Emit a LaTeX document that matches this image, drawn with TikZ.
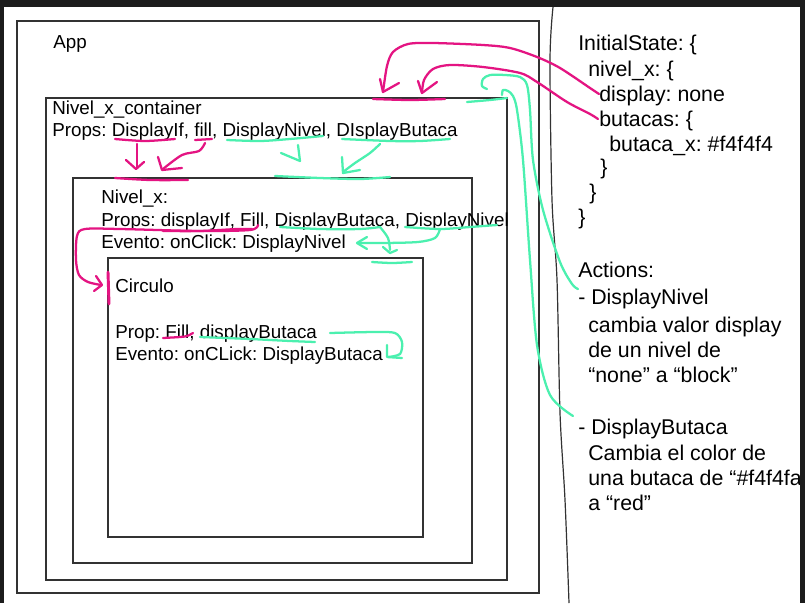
\documentclass[tikz,border=0pt]{standalone}
\usepackage{fontspec}
\setmainfont{Liberation Sans}
\definecolor{mag}{RGB}{228,20,130}
\definecolor{mint}{RGB}{75,240,175}
\definecolor{frame}{RGB}{28,28,28}
\definecolor{boxline}{RGB}{50,50,50}
\begin{document}
\frenchspacing
\begin{tikzpicture}[x=0.75pt,y=-0.75pt,
  box/.style={draw=boxline, line width=0.9pt},
  lt/.style={anchor=base west, inner sep=0pt, font=\fontsize{14.1}{16}\selectfont},
  rt/.style={anchor=base west, inner sep=0pt, font=\fontsize{16}{18}\selectfont},
  mg/.style={draw=mag, line width=1.7pt, line cap=round, line join=round},
  gn/.style={draw=mint, line width=1.7pt, line cap=round, line join=round},
  divider/.style={draw=boxline, line width=0.9pt}]
\useasboundingbox (0,0) rectangle (805,603);
\fill[frame] (0,0) rectangle (805,603);
\fill[white] (4,7) rectangle (800,603);

% boxes
\draw[box] (17,21) rectangle (539,593);
\draw[box] (46,98) rectangle (507,580);
\draw[box] (73,178) rectangle (472,563);
\draw[box] (108,258) rectangle (423,537);
\coordinate (appbox) at (17,21);
\coordinate (contbox) at (46,98);
\coordinate (nivbox) at (73,178);
\coordinate (circbox) at (108,258);

% divider
\draw[divider] plot[smooth] coordinates {(553,7) (550,60) (552,200) (557,280) (560,413) (565,500) (569,603)};

% left texts
\node[lt] (app) at (53,48) {App};
\node[lt] (cont) at (52,114) {Nivel\_x\_container};
\node[lt] (contp) at (52,136) {Props: DisplayIf, fill, DisplayNivel, DIsplayButaca};
\node[lt] (niv) at (101,203) {Nivel\_x:};
\node[lt] (nivp) at (101,226) {Props: displayIf, Fill, DisplayButaca, DisplayNivel};
\node[lt] (nive) at (101,248) {Evento: onClick: DisplayNivel};
\node[lt] (circ) at (115,292) {Circulo};
\node[lt] (circp) at (115,338) {Prop: Fill, displayButaca};
\node[lt] (circe) at (115,360) {Evento: onCLick: DisplayButaca};

% right texts
\node[rt] (s1) at (578,50) {InitialState: \{};
\node[rt] (s2) at (588,76) {nivel\_x: \{};
\node[rt] (s3) at (599,101) {display: none};
\node[rt] (s4) at (599,126) {butacas: \{};
\node[rt] (s5) at (609,151) {butaca\_x: \#f4f4f4};
\node[rt] (s6) at (600,174) {\}};
\node[rt] (s7) at (589,199) {\}};
\node[rt] (s8) at (578,224) {\}};
\node[rt] (a0) at (578,277) {Actions:};
\node[rt] (a1) at (578,304) {- DisplayNivel};
\node[rt] (a2) at (588,332) {cambia valor display};
\node[rt] (a3) at (588,357) {de un nivel de};
\node[rt] (a4) at (588,382) {“none” a “block”};
\node[rt] (b1) at (578,434) {- DisplayButaca};
\node[rt] (b2) at (588,460) {Cambia el color de};
\node[rt] (b3) at (588,485) {una butaca de “\#f4f4fa};
\node[rt] (b4) at (588,510) {a “red”};

% ---------- magenta marks ----------
% container props
\draw[mg] plot[smooth] coordinates {(115,139) (145,141) (175,139)};
\draw[mg] (195,140) -- (212,139);
\draw[mg] (137,144) -- (137,168);
\draw[mg] (126,160) -- (136,169) -- (144,162);
\draw[mg] plot[smooth] coordinates {(205,143) (199,151) (182,155) (163,169)};
\draw[mg] (158,157) -- (162,170) -- (182,168);
\draw[mg] plot[smooth] coordinates {(115,178) (150,180) (188,180)};
% top edge and big curves from state
\draw[mg] plot[smooth] coordinates {(373,99) (410,100) (445,99)};
\draw[mg] plot[smooth] coordinates {(599,94) (590,88) (560,68) (537,57) (510,48) (483,45) (433,43) (408,44) (393,52) (387,66) (383,92)};
\draw[mg] (380,79) -- (383,92) -- (399,83);
\draw[mg] plot[smooth] coordinates {(598,119) (590,114) (567,102) (537,82) (520,73) (483,67) (450,65) (433,69) (424,80) (422,93)};
\draw[mg] (418,81) -- (422,93) -- (437,82);
% nivel_x props
\draw[mg] plot[smooth] coordinates {(163,231) (200,231) (237,229) (252,229)};
\draw[mg] plot[smooth] coordinates {(258,225) (250,230) (200,231) (120,229) (85,229) (77,236) (76,260) (79,275) (88,282) (101,285)};
\draw[mg] (96,276) -- (102,285) -- (94,291);
\draw[mg, line width=2.2pt] (108,272) -- (109,304);
% circulo
\draw[mg] plot[smooth] coordinates {(163,338) (180,337) (187,336) (193,333)};

% ---------- green marks ----------
% container props
\draw[gn] plot[smooth] coordinates {(227,140) (260,141) (290,139) (323,136)};
\draw[gn] (298,145) -- (300,161);
\draw[gn] (281,153) -- (300,161);
\draw[gn] plot[smooth] coordinates {(342,139) (390,141) (420,141) (450,139)};
\draw[gn] plot[smooth] coordinates {(380,144) (370,153) (355,163) (343,172)};
\draw[gn] (342,157) -- (343,173) -- (360,170);
\draw[gn] plot[smooth] coordinates {(275,176) (320,178) (360,179) (390,177)};
\draw[gn] plot[smooth] coordinates {(467,102) (490,100) (507,98)};
% big curves to actions
\draw[gn] plot[smooth] coordinates {(578,289) (572,284) (560,262) (543,210) (533,160) (530,110) (527,85) (520,77) (505,75) (490,75) (483,79) (482,86) (487,89)};
\draw[gn] plot[smooth] coordinates {(573,416) (550,395) (537,345) (530,260) (523,160) (517,110) (513,96) (508,91) (503,90) (502,95)};
% nivel_x props
\draw[gn] plot[smooth] coordinates {(280,227) (320,229) (360,229) (380,227)};
\draw[gn] plot[smooth] coordinates {(380,227) (388,238) (390,250)};
\draw[gn] (383,247) -- (390,253) -- (397,250);
\draw[gn] plot[smooth] coordinates {(372,262) (392,263) (412,262)};
\draw[gn] plot[smooth] coordinates {(405,227) (440,229) (470,227) (497,225)};
\draw[gn] plot[smooth] coordinates {(440,229) (435,238) (418,242) (385,243) (358,243)};
\draw[gn] (367,237) -- (357,243) -- (367,249);
% circulo
\draw[gn] plot[smooth] coordinates {(200,337) (250,339) (290,341) (315,342)};
\draw[gn] plot[smooth] coordinates {(330,333) (375,332) (395,333) (402,342) (400,354) (388,357)};
\draw[gn] (387,345) -- (387,357) -- (402,358);

% clip right border over text
\fill[frame] (800,0) rectangle (805,603);
\fill[frame] (0,0) rectangle (805,7);
\end{tikzpicture}
\end{document}
